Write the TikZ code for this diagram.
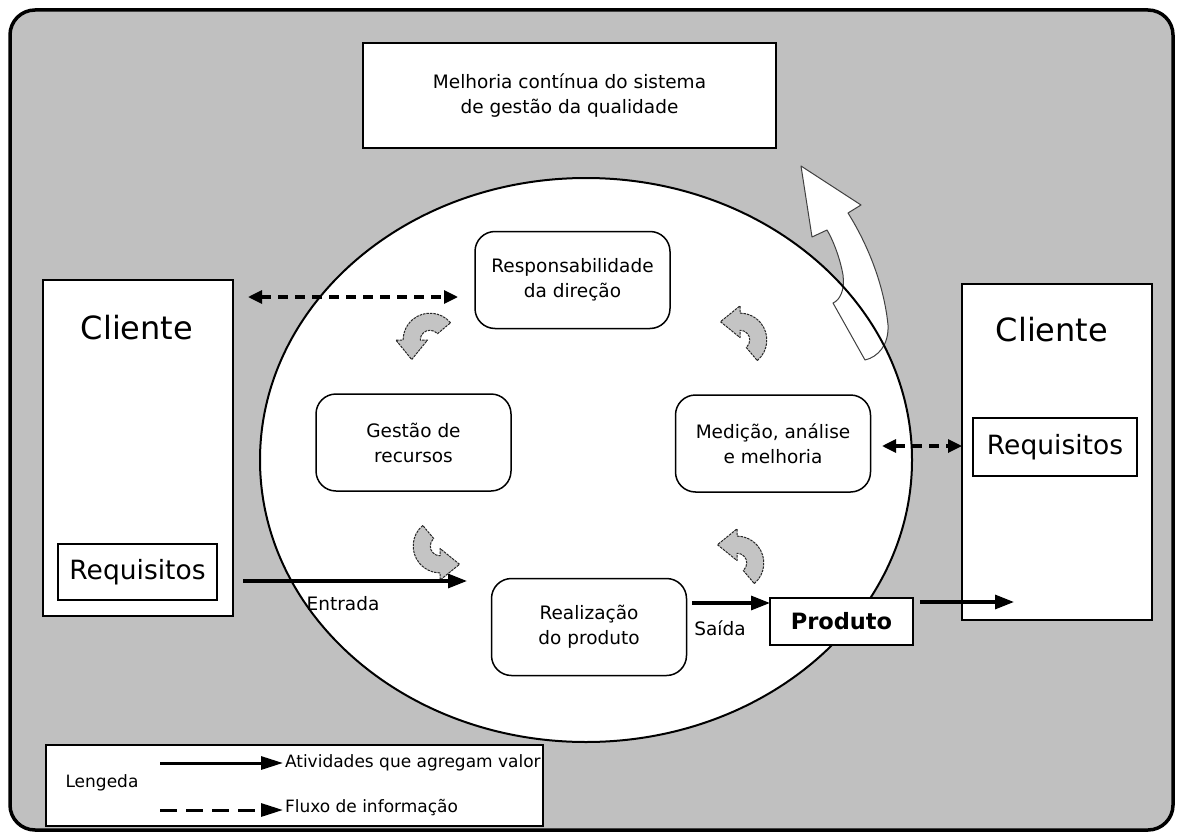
\documentclass[tikz,border=0pt]{standalone}
\usepackage{fontspec}
\setmainfont{DejaVu Sans}
\usetikzlibrary{arrows.meta}
\definecolor{bggray}{HTML}{C0C0C0}
\definecolor{agray}{HTML}{C4C4C4}
\begin{document}
\begin{tikzpicture}[x=1pt,y=-1pt,
  every node/.style={inner sep=0pt, outer sep=0pt},
  boxtxt/.style={font=\fontsize{18.5}{25}\selectfont, align=center},
  legtxt/.style={font=\fontsize{17}{20}\selectfont},
  bigtxt/.style={font=\fontsize{32}{36}\selectfont},
  reqtxt/.style={font=\fontsize{26.5}{30}\selectfont},
  rbox/.style={draw, line width=1.5pt, rounded corners=20pt, fill=white, minimum width=195pt, minimum height=97pt, boxtxt},
  plainbox/.style={draw, line width=1.5pt, fill=white},
  flow/.style={line width=3.2pt, -{Triangle[length=19pt,width=14pt]}},
  info/.style={line width=3.2pt, dash pattern=on 10pt off 7pt, {Triangle[length=14pt,width=13pt]}-{Triangle[length=14pt,width=13pt]}},
  carrow/.pic={\begin{scope}[yscale=-1, scale=1.22]
     \filldraw[fill=agray, draw=black!85, line width=1pt, dash pattern=on 2.5pt off 1pt, line join=round]
       (40:22) arc[start angle=40, end angle=180, radius=22] -- (-28,0) -- (-15,-16) -- (-2,0) -- (-8,0)
       arc[start angle=180, end angle=40, radius=8] -- cycle;
   \end{scope}}
]
\useasboundingbox (0,0) rectangle (1183,840);
% background
\draw[fill=bggray, line width=3.5pt, rounded corners=25pt] (10,10) rectangle (1173,830);
% ellipse fill
\fill[white] (586,460) ellipse [x radius=326pt, y radius=282pt];
% big improvement arrow
\filldraw[fill=white, draw=black!75, line width=1pt, line join=round]
  (801,166) -- (861,205) -- (848,213)
  .. controls (868,245) and (884,285) .. (888,325)
  .. controls (889,345) and (878,357) .. (865,360)
  -- (833,303)
  .. controls (840,300) and (845,290) .. (843,275)
  .. controls (840,258) and (833,240) .. (827,230)
  -- (812,237) -- cycle;
% ellipse outline
\draw[line width=2pt] (586,460) ellipse [x radius=326pt, y radius=282pt];

% boxes
\node[plainbox, boxtxt, minimum width=413pt, minimum height=105pt] (melhoria) at (569.5,95.5) {Melhoria contínua do sistema\\ de gestão da qualidade};
\node[rbox] (resp) at (572.5,280) {Responsabilidade\\da direção};
\node[rbox] (gest) at (413.5,442.5) {Gestão de\\recursos};
\node[rbox] (med) at (773,443.5) {Medição, análise\\e melhoria};
\node[rbox] (real) at (589,627) {Realização\\do produto};

\node[plainbox, minimum width=190pt, minimum height=336pt] (cliL) at (138,448) {};
\node[bigtxt] (cliLt) at (137,328) {Cliente};
\node[plainbox, reqtxt, minimum width=159pt, minimum height=56pt] (reqL) at (137.5,572) {Requisitos};

\node[plainbox, minimum width=190pt, minimum height=336pt] (cliR) at (1057,452) {};
\node[bigtxt] (cliRt) at (1052,330) {Cliente};
\node[plainbox, reqtxt, minimum width=164pt, minimum height=58pt] (reqR) at (1055,447) {Requisitos};

\node[plainbox, minimum width=143pt, minimum height=47pt, font=\bfseries\fontsize{22.5}{26}\selectfont] (prod) at (841.5,621.5) {Produto};

% curved cycle arrows
\pic at (430,340) {carrow};
\pic[rotate=-90] at (740,340) {carrow};
\pic[rotate=90] at (440,546) {carrow};
\pic[rotate=-90] at (737,563) {carrow};

% connectors
\coordinate (entA) at (243,581);
\coordinate (entB) at (467,581);
\draw[flow] (entA) -- (entB);
\node[boxtxt] (entr) at (343,604) {Entrada};

\coordinate (saiA) at (692,603);
\draw[flow] (saiA) -- (prod.west |- saiA);
\node[boxtxt] (saida) at (720,628) {Saída};

\coordinate (outA) at (920,602);
\coordinate (outB) at (1014,602);
\draw[flow] (outA) -- (outB);

\coordinate (infA) at (248,297);
\coordinate (infB) at (458,297);
\draw[info] (infA) -- (infB);

\coordinate (infC) at (882,446);
\draw[info] (infC) -- (cliR.west |- infC);

% legend
\node[plainbox, minimum width=497pt, minimum height=81pt] (leg) at (294.5,785.5) {};
\node[legtxt] (legt) at (102,783) {Lengeda};
\coordinate (l1a) at (160,763);
\coordinate (l1b) at (283,763);
\draw[line width=3pt, -{Triangle[length=22pt,width=13pt]}] (l1a) -- (l1b);
\node[legtxt, anchor=west] (l1t) at (285,763) {Atividades que agregam valor};
\coordinate (l2a) at (160,810);
\coordinate (l2b) at (283,810);
\draw[line width=3pt, dash pattern=on 17pt off 9pt, -{Triangle[length=22pt,width=13pt]}] (l2a) -- (l2b);
\node[legtxt, anchor=west] (l2t) at (285,808) {Fluxo de informação};
\end{tikzpicture}
\end{document}
